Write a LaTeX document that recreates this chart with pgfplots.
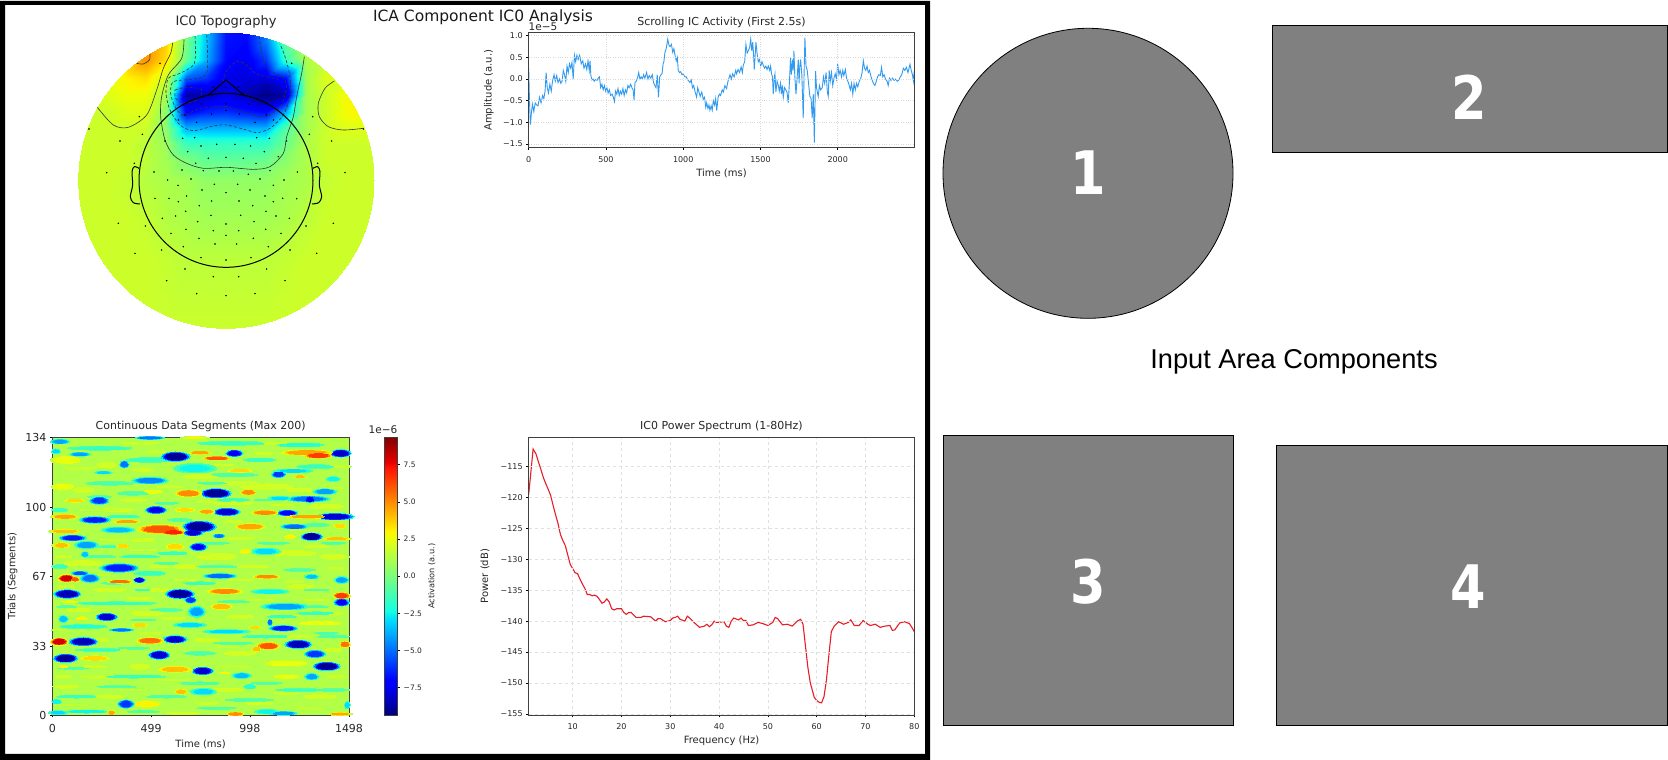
\documentclass[border=0pt]{standalone}
\usepackage{pgfplots}
\pgfplotsset{compat=1.18}
\usepackage{fontspec}
\setmainfont{DejaVu Sans}
\newfontfamily\arialf{Liberation Sans}
\newcommand{\fs}[1]{\fontsize{#1}{#1}\selectfont}
\pgfplotsset{
  colormap={mj}{rgb(0pt)=(0,0,.5); rgb(11pt)=(0,0,1); rgb(12.5pt)=(0,0,1); rgb(34pt)=(0,.86,1); rgb(35pt)=(0,.9,.97); rgb(37.5pt)=(.08,1,.89); rgb(64pt)=(.93,1,.03); rgb(66pt)=(1,.96,0); rgb(89pt)=(1,.07,0); rgb(91pt)=(.91,0,0); rgb(100pt)=(.5,0,0)},
  base/.style={scale only axis, tick align=outside, xtick pos=lower, ytick pos=left,
    major tick length=2.5pt, tick style={black,line width=.6pt}, axis line style={line width=.8pt,draw=black!75},
    tick label style={font=\fs{8},text=black!85}, x tick label style={yshift=-3pt}, label style={font=\fs{10},text=black!85},
    title style={font=\fs{11},text=black!85,anchor=center}, axis on top},
}
\newcommand{\streakT}{x y a b v\\
200 150 40 10 2.5\\ 320 165 30 8 2\\ 430 180 30 4 2\\ 190 230 30 8 2.5\\ 250 240 30 8 2\\ 460 245 25 5 2.5\\
800 230 80 8 2\\ 980 290 50 7 2\\ 400 270 40 4 2\\ 350 300 50 5 2\\ 600 200 50 6 2\\ 720 220 60 6 1.8\\
900 240 40 6 2\\ 700 280 60 4 2\\ 430 390 35 6 2\\ 650 440 60 10 2\\ 880 430 70 8 2\\ 1000 440 40 8 2\\
250 460 60 8 2\\ 560 470 40 6 2\\ 480 540 30 6 2\\ 330 540 50 5 2\\ 900 530 40 6 2\\ 240 600 40 5 2\\
440 610 50 7 2\\ 720 620 40 5 2\\ 960 640 60 5 2.5\\ 300 690 30 4 2\\ 620 690 40 6 2\\ 720 730 50 6 2\\
860 760 60 7 2.5\\ 420 770 30 8 2\\ 440 882 35 7 3\\ 200 830 35 5 2\\ 330 860 40 5 2\\ 680 840 50 6 2\\
860 800 35 5 2.5\\ 960 860 50 6 2\\ 780 880 40 4 2\\ 550 910 50 3 2\\ 300 800 60 5 1.8\\ 1000 720 25 6 2\\
420 100 60 3 1.8\\ 830 100 50 3 1.8\\ 470 125 30 3 1.8\\ 790 130 30 3 2\\ 240 175 50 3 1.8\\ 660 165 40 3 2\\ 1000 170 45 4 1.8\\
510 230 40 3 1.8\\ 1000 235 30 4 1.8\\ 620 275 30 3 1.8\\ 850 285 35 3 2\\ 300 300 60 3 1.6\\ 700 335 30 3 1.8\\ 900 360 30 3 1.8\\
340 390 40 3 2\\ 720 385 45 3 2\\ 950 410 40 3 2\\ 430 420 40 3 1.8\\ 600 430 40 3 1.6\\ 190 440 25 4 2\\ 300 495 30 3 1.8\\ 480 470 30 3 2\\
760 470 50 3 2\\ 1010 475 30 3 1.8\\ 560 510 35 3 2\\ 720 510 40 3 2\\ 880 515 30 3 1.8\\ 200 530 30 3 1.8\\ 420 565 40 3 2\\ 780 570 40 3 1.8\\
950 570 35 3 2\\ 300 600 30 3 1.6\\ 520 625 35 3 2\\ 880 620 35 3 1.6\\ 1000 610 30 3 2\\ 180 660 20 3 1.8\\ 450 670 40 3 1.8\\ 620 660 30 3 1.6\\
900 680 40 3 1.8\\ 350 720 30 3 1.8\\ 680 710 40 3 1.6\\ 190 800 25 3 2\\ 520 810 50 3 1.8\\ 700 770 60 3 1.6\\ 1010 800 30 3 2\\ 280 770 40 3 2\\
400 840 40 3 1.6\\ 860 850 40 3 1.8\\ 620 880 35 3 1.8\\ 220 885 40 3 1.6\\ 930 895 50 3 1.6\\
300 115 80 4 -1.5\\ 700 100 90 4 -1.5\\ 900 105 60 4 -2\\ 450 150 60 5 -1.5\\ 780 150 40 4 -1.5\\ 330 220 60 4 -1\\
700 195 60 4 -1\\ 950 170 50 4 -1.5\\ 400 250 40 4 -1\\ 700 270 40 3 -1.5\\ 180 300 20 4 -1.5\\ 370 320 40 3 -1.5\\
540 330 30 3 -1\\ 950 345 30 4 -1\\ 420 440 50 3 -1.5\\ 520 430 40 3 -1.5\\ 300 440 40 3 -1\\ 180 470 20 4 -1.5\\
450 490 40 5 -1.5\\ 600 520 40 3 -1.5\\ 900 480 40 3 -1\\ 350 580 100 3 -1.5\\ 250 650 60 4 -2\\ 500 600 40 3 -1\\
950 610 50 3 -1.5\\ 850 620 40 3 -1.5\\ 300 720 60 3 -1.5\\ 600 730 40 4 -1\\ 800 680 60 3 -1.5\\ 1000 680 40 3 -1\\
400 800 80 3 -1.5\\ 600 820 50 3 -1\\ 230 860 50 3 -1.5\\ 500 860 50 3 -1\\ 750 870 60 3 -1\\ 900 840 60 3 -1.5\\
170 875 12 5 -2.5\\ 260 905 50 3 -2.5\\ 1000 840 40 3 -1\\ 750 830 15 5 -2\\
640 220 40 2 -1\\ 300 260 30 2 -1\\ 800 270 30 2 -1\\ 500 280 30 2 -1\\ 640 400 40 2 -1\\ 820 400 40 2 -1\\ 330 410 30 2 -1.5\\ 1000 400 30 2 -1\\
650 470 60 2 -1\\ 500 460 30 2 -1\\ 340 520 30 2 -1\\ 950 540 30 2 -1\\ 430 540 20 2 -1.5\\ 700 575 40 2 -1\\ 950 590 30 2 -1\\ 200 590 25 2 -1\\
430 630 30 2 -1\\ 980 670 30 2 -1\\ 700 700 50 2 -1\\ 400 715 40 2 -1\\ 220 775 40 2 -1\\ 350 830 50 2 -1\\ 800 820 40 2 -1\\ 980 780 20 2 -1.5\\ 430 905 40 2 -1\\ 650 895 50 2 -1\\
}
\newcommand{\blobT}{x y a b v\\
527 140 30 10 -9\\ 703 130 18 7 -7.5\\ 1022 130 22 8 -8\\ 373 163 10 8 -5\\ 836 193 15 7 -6\\ 450 212 38 7 -4.5\\
648 250 32 10 -9\\ 298 272 20 8 -6\\ 925 267 45 6 -5\\ 930 268 12 7 -7\\ 975 245 25 6 -4\\ 468 300 22 8 -7.5\\
680 306 28 8 -8\\ 862 309 22 6 -7\\ 1005 320 40 7 -8\\ 285 330 32 7 -6.5\\ 598 350 35 12 -9\\ 580 368 20 7 -8\\
355 360 35 6 -3.5\\ 883 350 28 5 -5\\ 935 380 22 8 -9\\ 218 384 28 6 -6.5\\ 260 405 25 8 -4\\ 595 411 18 8 -7\\
657 378 12 4 -5\\ 255 433 8 6 -3.5\\ 797 424 32 7 -3\\ 358 474 40 9 -6.5\\ 270 505 20 9 -5\\ 240 490 18 4 -5.5\\
418 510 12 6 -7.5\\ 660 498 35 5 -5\\ 935 500 15 5 -3.5\\ 1025 510 15 7 -4\\ 202 552 28 9 -8.5\\ 540 552 30 10 -9\\
572 570 12 7 -6\\ 1025 577 16 8 -7\\ 855 590 50 7 -4\\ 810 545 40 5 -2.5\\ 590 605 18 12 -4\\ 320 621 22 8 -8\\
190 627 10 8 -3.5\\ 570 645 35 5 -3\\ 810 637 5 7 -5\\ 850 655 30 6 -6.5\\ 365 660 25 3 -5\\ 680 665 50 4 -3\\
250 695 30 9 -8.5\\ 525 688 25 8 -8\\ 895 703 28 9 -8.5\\ 945 732 22 8 -6\\ 478 735 22 9 -8\\ 197 745 25 9 -9\\
608 783 22 8 -8\\ 980 769 28 9 -9\\ 725 797 20 6 -3.5\\ 935 800 15 7 -4\\ 610 845 28 7 -3\\ 378 882 17 9 -6\\
1042 885 6 8 -3\\ 850 910 30 4 -4\\ 800 905 25 5 -2.5\\ 175 908 20 4 -3\\ 450 84 30 3 -5\\ 180 95 20 5 -4\\
240 133 22 4 -4\\ 168 124 10 5 -3\\ 585 175 45 10 -2.5\\ 310 188 18 3 -3\\ 880 183 40 4 -3\\ 1000 207 15 5 -2.5\\
840 265 25 4 -3\\ 600 128 25 4 4.5\\ 650 145 30 4 6\\ 920 128 60 6 4.5\\ 955 137 30 6 6.5\\ 720 182 30 4 3.5\\
900 200 15 3 4\\ 565 250 30 8 5\\ 745 247 18 6 5\\ 225 272 25 4 3.5\\ 555 300 25 4 3.5\\ 620 305 18 5 4.5\\
795 308 30 5 5\\ 925 320 50 4 4.5\\ 195 320 30 5 4.5\\ 380 335 30 3 4.5\\ 480 358 50 10 6\\ 520 367 25 5 7\\
750 350 35 7 4.5\\ 195 364 35 4 4\\ 1020 348 15 6 3.5\\ 870 380 15 5 3\\ 1010 386 30 3 4\\ 185 406 20 6 4\\
370 408 15 5 3.5\\ 525 410 22 7 3.5\\ 735 424 15 5 3\\ 200 505 18 8 8\\ 225 508 10 5 6\\ 360 515 28 3 5.5\\
800 500 30 4 5\\ 675 544 40 6 5\\ 1025 557 18 7 6.5\\ 665 590 25 7 4\\ 210 575 20 2 3\\ 420 645 18 5 3.5\\
245 625 15 4 3\\ 765 653 15 3 3.5\\ 450 692 30 7 5.5\\ 178 695 18 8 8\\ 805 708 25 8 6\\ 770 717 10 6 4\\
1035 703 12 7 5.5\\ 285 745 35 6 3.5\\ 525 778 40 7 4\\ 190 770 10 3 3\\ 675 788 12 2 3\\ 543 845 15 6 4\\
707 912 18 4 5\\ 335 908 8 5 4.5\\ 1020 912 25 3 4.5\\ 585 83 30 2 3\\
}
\newcommand{\feat}[4]{\addplot[scatter,only marks,mark=*,mark size=1pt,scatter src=explicit,
  scatter/use mapped color={draw=mapped color,fill=mapped color},mark options={line width=0pt},
  visualization depends on={value \thisrow{a} \as \A},
  visualization depends on={value \thisrow{b} \as \B},
  scatter/@pre marker code/.append style={/tikz/xscale=#2*\A/3,/tikz/yscale=#3*\B/3}]
  table[row sep=\\,x expr=(\thisrow{x}-157)*1.6831,y expr=(915-\thisrow{y})*.16086,meta expr=\thisrow{v}*#4] {#1};}
\begin{document}
\begin{tikzpicture}[x=1pt,y=1pt]
\path[use as bounding box,fill=white] (0,0) rectangle (1668,760);
\fill[black,even odd rule] (0,0) rectangle (930,759) (5,6) rectangle (925,755);

% --- topography colour field
\begin{axis}[at={(0pt,420pt)},anchor=south west,width=470pt,height=340pt,scale only axis,
  xmin=0,xmax=1410,ymin=0,ymax=1020,zmin=-1,zmax=2,y dir=reverse,hide axis,view={0}{90},
  colormap name=mj,point meta min=0,point meta max=1]
\clip (axis cs:678,541,0) circle [radius=148pt];
\addplot3[surf,shader=interp,mesh/rows=13] coordinates {
(198,61,.6)(258,61,.6)(318,61,.6)(378,61,.65)(438,61,.72)(498,61,.72)(558,61,.5)(618,61,.32)(678,61,.14)(738,61,.13)(798,61,.25)(858,61,.48)(918,61,.58)(978,61,.6)(1038,61,.6)(1098,61,.6)(1158,61,.6)
(198,121,.6)(258,121,.6)(318,121,.62)(378,121,.68)(438,121,.75)(498,121,.7)(558,121,.5)(618,121,.32)(678,121,.14)(738,121,.13)(798,121,.25)(858,121,.48)(918,121,.58)(978,121,.6)(1038,121,.6)(1098,121,.6)(1158,121,.6)
(198,181,.6)(258,181,.6)(318,181,.63)(378,181,.7)(438,181,.76)(498,181,.68)(558,181,.48)(618,181,.3)(678,181,.13)(738,181,.1)(798,181,.18)(858,181,.42)(918,181,.56)(978,181,.6)(1038,181,.6)(1098,181,.6)(1158,181,.6)
(198,235,.6)(258,235,.6)(318,235,.62)(378,235,.66)(438,235,.68)(498,235,.6)(558,235,.22)(618,235,.18)(678,235,.09)(738,235,.08)(798,235,.08)(858,235,.14)(918,235,.55)(978,235,.62)(1038,235,.62)(1098,235,.6)(1158,235,.6)
(198,285,.6)(258,285,.6)(318,285,.62)(378,285,.64)(438,285,.64)(498,285,.55)(558,285,.03)(618,285,.05)(678,285,.09)(738,285,.05)(798,285,0)(858,285,.05)(918,285,.55)(978,285,.6)(1038,285,.65)(1098,285,.66)(1158,285,.62)
(198,335,.6)(258,335,.6)(318,335,.6)(378,335,.62)(438,335,.62)(498,335,.52)(558,335,.12)(618,335,.16)(678,335,.17)(738,335,.15)(798,335,.13)(858,335,.3)(918,335,.55)(978,335,.6)(1038,335,.65)(1098,335,.66)(1158,335,.62)
(198,385,.6)(258,385,.6)(318,385,.6)(378,385,.6)(438,385,.6)(498,385,.52)(558,385,.3)(618,385,.3)(678,385,.3)(738,385,.3)(798,385,.3)(858,385,.45)(918,385,.55)(978,385,.6)(1038,385,.62)(1098,385,.62)(1158,385,.6)
(198,430,.6)(258,430,.6)(318,430,.6)(378,430,.6)(438,430,.58)(498,430,.54)(558,430,.42)(618,430,.41)(678,430,.41)(738,430,.41)(798,430,.41)(858,430,.48)(918,430,.56)(978,430,.6)(1038,430,.6)(1098,430,.6)(1158,430,.6)
(198,481,.6)(258,481,.6)(318,481,.6)(378,481,.6)(438,481,.58)(498,481,.55)(558,481,.5)(618,481,.47)(678,481,.47)(738,481,.47)(798,481,.48)(858,481,.52)(918,481,.56)(978,481,.6)(1038,481,.6)(1098,481,.6)(1158,481,.6)
(198,541,.6)(258,541,.6)(318,541,.6)(378,541,.59)(438,541,.57)(498,541,.56)(558,541,.55)(618,541,.53)(678,541,.53)(738,541,.53)(798,541,.53)(858,541,.55)(918,541,.56)(978,541,.59)(1038,541,.6)(1098,541,.6)(1158,541,.6)
(198,661,.6)(258,661,.6)(318,661,.6)(378,661,.6)(438,661,.59)(498,661,.57)(558,661,.56)(618,661,.55)(678,661,.55)(738,661,.55)(798,661,.55)(858,661,.56)(918,661,.58)(978,661,.6)(1038,661,.6)(1098,661,.6)(1158,661,.6)
(198,781,.6)(258,781,.6)(318,781,.6)(378,781,.6)(438,781,.6)(498,781,.59)(558,781,.58)(618,781,.58)(678,781,.58)(738,781,.58)(798,781,.58)(858,781,.59)(918,781,.6)(978,781,.6)(1038,781,.6)(1098,781,.6)(1158,781,.6)
(198,1021,.6)(258,1021,.6)(318,1021,.6)(378,1021,.6)(438,1021,.6)(498,1021,.6)(558,1021,.6)(618,1021,.6)(678,1021,.6)(738,1021,.6)(798,1021,.6)(858,1021,.6)(918,1021,.6)(978,1021,.6)(1038,1021,.6)(1098,1021,.6)(1158,1021,.6)
};
\end{axis}

% --- topography outlines, sensors
\begin{axis}[at={(0pt,420pt)},anchor=south west,width=470pt,height=340pt,scale only axis,
  xmin=0,xmax=1410,ymin=0,ymax=1020,y dir=reverse,hide axis,clip=false]
\addplot[black!80,line width=.6pt,smooth] coordinates {(410,190)(430,192)(448,180)(450,162)};
\addplot[black!80,line width=.6pt,smooth] coordinates {(518,128)(512,160)(490,205)(470,270)(440,345)(385,382)(340,375)(292,322)};
\addplot[black!80,line width=.6pt,smooth] coordinates {(1003,243)(975,265)(955,310)(958,350)(985,380)(1030,390)(1090,385)};
\addplot[black!80,line width=.6pt,smooth] coordinates {(552,118)(545,175)(505,225)(485,290)(482,350)(495,420)(520,465)(560,490)(610,505)(680,502)(760,508)(810,500)(850,460)(860,410)(880,350)(890,290)(905,220)(913,170)};
\addplot[black!80,line width=.6pt,densely dashed,smooth] coordinates {(585,108)(583,190)(540,220)(505,235)(498,280)(510,330)(540,375)(580,392)(640,378)(680,375)(740,390)(770,398)(810,385)(850,345)(870,290)(870,230)(855,170)(840,132)};
\addplot[black!80,line width=.6pt,densely dashed,smooth] coordinates {(620,105)(620,220)(570,238)(520,245)(512,280)(525,320)(550,345)(600,325)(650,320)(680,320)(730,335)(790,350)(840,320)(860,260)(845,230)(800,205)(785,155)(778,112)};
\addplot[black!80,line width=.6pt,densely dashed,smooth] coordinates {(670,245)(680,212)(712,183)(745,200)(770,222)(835,238)};
\addplot[black!80,line width=.6pt,densely dashed,smooth,tension=.6] coordinates {(525,270)(560,262)(605,270)(590,300)(550,310)(527,295)(525,270)};
\addplot[black!90,line width=.6pt,densely dashed,smooth,tension=.6] coordinates {(745,270)(790,255)(835,260)(835,290)(790,310)(745,280)(745,270)};
\addplot[black,only marks,mark=*,mark size=.5pt] coordinates {
(480,190)(875,190)(418,350)(938,350)(267,387)(1090,387)(427,403)(928,403)(360,423)(995,423)(495,423)(860,423)(403,490)(953,490)(320,518)(1035,518)
(535,360)(590,367)(635,342)(678,332)(718,342)(765,367)(820,360)(640,262)(678,262)(715,262)(605,312)(678,312)(745,312)(555,345)(800,345)
(548,415)(584,413)(770,413)(808,415)(603,438)(650,433)(705,433)(752,438)(563,455)(793,455)(678,472)(625,475)(730,475)(587,490)(768,490)(835,470)
(546,510)(610,512)(657,513)(700,513)(810,512)(462,516)(892,516)(573,537)(503,540)(780,537)(745,523)(534,556)(643,553)(713,553)(852,540)(820,556)
(606,570)(678,578)(750,570)(465,595)(507,595)(560,588)(795,588)(848,595)(890,596)(535,605)(635,603)(717,603)(820,605)(598,617)(758,617)(557,634)(798,634)
(527,648)(633,646)(722,646)(828,648)(487,655)(868,655)(593,665)(678,672)(762,665)(355,670)(1000,670)(436,678)(918,678)(558,688)(640,692)(716,692)(797,688)(513,700)(843,700)
(678,706)(597,715)(760,715)(645,732)(710,732)(550,740)(805,740)(485,750)(870,750)(405,760)(950,760)(603,773)(753,773)(678,780)
(555,807)(800,807)(640,830)(716,830)(500,842)(855,842)(590,881)(765,881)(678,887)};
\draw[black,line width=1pt] (axis cs:678,541) circle [radius=87pt];
\addplot[black,line width=1pt] coordinates {(625,285)(678,240)(735,288)};
\addplot[black,line width=1pt,smooth,tension=.5] coordinates {(417,505)(403,500)(396,515)(398,555)(391,590)(400,608)(420,612)};
\addplot[black,line width=1pt,smooth,tension=.5] coordinates {(939,505)(953,500)(960,515)(958,555)(965,590)(956,608)(936,612)};
\end{axis}
\node[font=\fs{13},text=black!85] at (226pt,738pt) {IC0 Topography};
\node[font=\fs{15.5},text=black!90] at (483pt,743pt) {ICA Component IC0 Analysis};

% --- scrolling activity
\begin{axis}[base,at={(528.7pt,612.3pt)},anchor=south west,width=385.6pt,height=115pt,
  xmin=0,xmax=2496,ymin=-1.585,ymax=1.07,
  xtick={0,500,1000,1500,2000},xticklabels={0,500,1000,1500,2000},
  ytick={-1.5,-1,-.5,0,.5,1},yticklabels={−1.5,−1.0,−0.5,0.0,0.5,1.0},
  grid=major,grid style={black!15,dotted,line width=.5pt},
  title={Scrolling IC Activity (First 2.5s)},xlabel={Time (ms)},ylabel={Amplitude (a.u.)},
  title style={at={(axis description cs:.5,1.038)}},
  xlabel style={at={(axis description cs:.5,-.22)},anchor=center},
  ylabel style={at={(axis description cs:-.103,.5)},anchor=center}]
\addplot[color={rgb,255:red,50;green,155;blue,240},line width=.9pt] coordinates {
(0,.25)(5,-.5)(11,-1.05)(17,-.8)(24,-.58)(33,-.75)(42,-.55)(52,-.6)(60,-.62)(70,-.42)(80,-.55)(90,-.38)(98,-.45)(106,-.28)(113,.15)(120,-.2)(128,-.32)(137,-.12)(146,-.28)(154,-.05)(164,.1)(172,-.05)(181,.08)(190,-.08)(200,0)(208,-.1)(216,-.05)(224,.2)(232,.1)(240,-.05)(248,.3)(256,.15)(264,.35)(272,.25)(280,.38)(288,0)(296,.55)(304,.4)(312,.55)(320,.45)(330,.55)(340,.35)(350,.42)(358,.25)(368,.35)(376,.22)(384,.42)(392,.2)(397,.42)(402,.1)(408,-.02)(416,0)(424,-.05)(434,-.01)(442,-.03)(450,.02)(458,.05)(466,-.2)(474,-.12)(482,-.25)(490,-.15)(498,-.28)(506,-.2)(514,-.32)(522,-.25)(530,-.38)(540,-.35)(548,-.42)(555,-.52)(562,-.28)(570,-.35)(578,-.22)(586,-.38)(594,-.28)(602,-.35)(610,-.22)(618,-.38)(626,-.25)(634,-.32)(642,-.15)(650,-.2)(660,-.12)(668,-.2)(676,-.25)(682,-.48)(688,-.08)(696,-.05)(704,.02)(712,.15)(720,.0)(728,.05)(736,.0)(744,.1)(752,.02)(763,.15)(772,.0)(780,.08)(790,.02)(800,.1)(808,-.08)(816,-.15)(824,-.2)(832,.1)(840,-.42)(848,.05)(856,.1)(863,.12)(870,.35)(875,.4)(882,.62)(890,.7)(900,.92)(908,.78)(915,.75)(924,.8)(932,.62)(940,.7)(947,.55)(955,.42)(962,.5)(968,.2)(976,.15)(984,.17)(992,.1)(1000,.12)(1010,.05)(1020,.05)(1030,-.02)(1044,-.08)(1052,-.02)(1060,-.2)(1068,-.15)(1076,-.28)(1087,-.42)(1094,-.2)(1102,-.3)(1110,-.4)(1120,-.3)(1130,-.47)(1138,-.42)(1146,-.65)(1152,-.55)(1160,-.68)(1167,-.6)(1173,-.72)(1181,-.62)(1188,-.72)(1195,-.5)(1203,-.6)(1210,-.45)(1217,-.73)(1226,-.42)(1234,-.35)(1242,-.38)(1252,-.25)(1260,-.3)(1270,-.15)(1281,-.22)(1290,-.05)(1303,.1)(1312,0)(1320,.12)(1330,.05)(1340,.2)(1346,.12)(1355,.22)(1365,.15)(1375,.28)(1383,.15)(1389,.32)(1398,.4)(1406,.8)(1414,.6)(1421,.65)(1430,.72)(1437,.92)(1444,.65)(1450,.85)(1456,.55)(1460,.22)(1466,.55)(1471,.85)(1478,.6)(1486,.4)(1494,.45)(1502,.3)(1510,.4)(1518,.32)(1526,.25)(1535,.3)(1543,.22)(1551,.3)(1560,.2)(1566,.3)(1572,.12)(1578,.05)(1583,-.35)(1590,.05)(1594,.12)(1600,-.3)(1608,-.05)(1616,-.15)(1622,-.28)(1630,-.1)(1636,-.35)(1642,-.15)(1648,-.42)(1656,-.2)(1664,-.25)(1672,-.3)(1680,-.55)(1688,-.05)(1695,.5)(1700,.1)(1708,.45)(1712,.2)(1717,.65)(1722,.1)(1730,-.35)(1737,0)(1745,.45)(1750,-.1)(1755,.3)(1760,.45)(1768,.1)(1777,-.9)(1783,.2)(1788,.95)(1795,.3)(1803,.2)(1810,-.05)(1820,-.4)(1828,-.45)(1835,-.9)(1842,-.35)(1849,-1.47)(1857,.18)(1863,-.2)(1874,-.4)(1882,-.15)(1890,-.25)(1900,-.2)(1908,.05)(1916,-.1)(1925,.15)(1933,-.3)(1939,-.4)(1945,.2)(1952,-.05)(1960,.15)(1968,-.15)(1976,.02)(1984,.12)(1992,.0)(2000,.35)(2008,.1)(2016,.2)(2025,.05)(2033,.2)(2040,.08)(2050,.22)(2058,.0)(2066,-.05)(2075,-.15)(2082,-.25)(2090,-.1)(2098,-.35)(2106,-.1)(2114,-.25)(2122,-.1)(2130,-.18)(2140,-.05)(2150,.02)(2158,.15)(2166,.42)(2174,.25)(2182,.2)(2190,.3)(2198,.15)(2206,.2)(2216,.05)(2226,-.05)(2234,-.12)(2241,-.15)(2250,-.05)(2258,.05)(2266,.1)(2276,.08)(2284,.27)(2292,.05)(2300,.1)(2310,0)(2320,-.05)(2327,-.15)(2335,.02)(2345,-.03)(2355,.02)(2365,-.03)(2375,.0)(2385,-.05)(2395,-.03)(2405,.05)(2415,.1)(2425,.25)(2435,.2)(2445,.27)(2455,.15)(2468,.34)(2476,.2)(2484,.1)(2490,-.05)(2496,.2)};
\end{axis}
\node[font=\fs{10.5},text=black!85] at (543pt,733pt) {1e−5};

% --- heat map
\begin{axis}[base,at={(52.3pt,45pt)},anchor=south west,width=296.7pt,height=277.7pt,
  xmin=0,xmax=1498,ymin=0,ymax=134,xtick={0,499,998,1498},xticklabels={0,499,998,1498},
  ytick={0,33,67,100,134},yticklabels={0,33,67,100,134},
  x tick label style={font=\fs{11}},y tick label style={font=\fs{11}},
  title={Continuous Data Segments (Max 200)},xlabel={Time (ms)},ylabel={Trials (Segments)},
  title style={at={(axis description cs:.5,1.018)}},
  xlabel style={at={(axis description cs:.5,-.104)},anchor=center},
  ylabel style={at={(axis description cs:-.1335,.5)},anchor=center},
  colormap name=mj,point meta min=-9.35,point meta max=9.35,
  axis background/.style={fill={rgb,1:red,.7;green,1;blue,.28}}]
\expandafter\feat\expandafter{\streakT}{1.2}{1.35}{.6}
\expandafter\feat\expandafter{\streakT}{1}{1}{1}
\expandafter\feat\expandafter{\blobT}{1.45}{1.4}{.3}
\expandafter\feat\expandafter{\blobT}{1.28}{1.22}{.55}
\expandafter\feat\expandafter{\blobT}{1.12}{1.08}{.78}
\expandafter\feat\expandafter{\blobT}{.95}{.9}{1}
\end{axis}

% --- colour bar
\begin{axis}[base,at={(384pt,45pt)},anchor=south west,width=13.7pt,height=277.7pt,
  xmin=0,xmax=1,ymin=-9.35,ymax=9.35,xtick=\empty,ytick pos=right,
  ytick={-7.5,-5,-2.5,0,2.5,5,7.5},yticklabels={−7.5,−5.0,−2.5,0.0,2.5,5.0,7.5},
  tick label style={font=\fs{7.5}},
  ylabel={Activation (a.u.)},ylabel style={font=\fs{8.2},at={(axis description cs:3.48,.5)},anchor=center},
  colormap name=mj,point meta min=-9.35,point meta max=9.35]
\addplot[surf,shader=interp,mesh/rows=2,point meta=y] coordinates {(0,-9.35)(1,-9.35)(0,9.35)(1,9.35)};
\end{axis}
\node[font=\fs{10.5},text=black!85] at (383pt,330pt) {1e−6};

% --- power spectrum
\begin{axis}[base,at={(528.7pt,45pt)},anchor=south west,width=385.6pt,height=277.7pt,
  xmin=1,xmax=80,ymin=-155.16,ymax=-110.3,
  xtick={10,20,30,40,50,60,70,80},xticklabels={10,20,30,40,50,60,70,80},
  ytick={-155,-150,-145,-140,-135,-130,-125,-120,-115},yticklabels={−155,−150,−145,−140,−135,−130,−125,−120,−115},
  grid=major,grid style={black!12,dashed,line width=.6pt},
  title={IC0 Power Spectrum (1-80Hz)},xlabel={Frequency (Hz)},ylabel={Power (dB)},
  title style={at={(axis description cs:.5,1.018)}},
  xlabel style={at={(axis description cs:.5,-.0936)},anchor=center},
  ylabel style={at={(axis description cs:-.1133,.5)},anchor=center}]
\addplot[color={rgb,255:red,230;green,30;blue,40},line width=1.1pt] coordinates {
(1,-119.5)(1.5,-115.5)(1.9,-112.2)(2.5,-113)(3,-114.3)(3.5,-115.5)(4,-116.8)(4.5,-117.8)(5,-118.7)(5.5,-119.7)(6,-121.3)(6.5,-122.8)(7,-124.2)(7.5,-126)(8,-127)(8.5,-127.8)(9,-129.3)(9.5,-130.8)(10,-131.5)(10.5,-132.2)(11,-132.3)(11.5,-133.2)(12,-134)(12.5,-134.7)(13,-135.7)(13.5,-135.7)(14,-135.9)(14.5,-135.8)(15,-136)(15.5,-136.5)(16,-137.1)(16.5,-136.9)(17,-136.4)(17.5,-136.9)(18,-138)(18.5,-138.2)(19,-138)(20,-138)(20.5,-138.6)(21,-138.9)(21.5,-138.6)(22,-138.6)(23,-139.4)(24,-139.4)(24.5,-139.2)(26,-139.3)(27,-140)(27.5,-139.6)(28,-139.6)(29,-140.1)(30,-139.9)(30.5,-139.5)(31,-139.4)(31.5,-139.2)(32,-139.7)(33,-140)(33.5,-139.2)(34,-139.5)(35,-140.3)(36,-141)(37,-140.8)(37.5,-140.5)(38,-140.9)(38.5,-140.6)(39,-140)(39.5,-140.2)(41,-140.1)(41.5,-140.8)(42,-141)(42.5,-140)(43,-139.5)(44,-139.8)(44.5,-139.5)(45,-139.9)(45.5,-139.9)(46,-140.7)(47,-140.6)(48,-140.2)(49,-140.4)(50,-140.7)(51,-140.2)(51.5,-139.4)(52,-139.6)(53,-140.6)(54,-140.5)(55,-140.8)(56,-140)(56.7,-139.7)(57.2,-140.5)(57.7,-144)(58.2,-147.5)(58.7,-150)(59.5,-152.3)(60,-152.8)(60.5,-153.1)(61,-153.2)(61.5,-152.2)(62,-149.5)(62.5,-145.5)(63,-141.7)(63.6,-140.8)(64.5,-140.1)(65.5,-140.5)(66.5,-140.2)(67,-139.8)(67.7,-140.7)(68.7,-140.7)(69.5,-139.9)(70.5,-140.5)(71,-140.7)(72,-140.5)(73,-141)(74,-140.8)(75,-140.7)(75.5,-141.5)(76,-141.4)(77,-140.3)(78,-140.1)(79,-140.4)(79.5,-141)(80,-141.7)};
\end{axis}

% --- input area shapes
\draw[black,line width=.8pt,fill={rgb,255:red,128;green,128;blue,128}] (1088pt,586.7pt) circle [radius=145pt];
\draw[black,line width=.8pt,fill={rgb,255:red,128;green,128;blue,128}] (1272.5pt,607.7pt) rectangle (1667pt,734.7pt);
\draw[black,line width=.8pt,fill={rgb,255:red,128;green,128;blue,128}] (943.3pt,34.7pt) rectangle (1233.3pt,325pt);
\draw[black,line width=.8pt,fill={rgb,255:red,128;green,128;blue,128}] (1276.5pt,34.7pt) rectangle (1667pt,314.7pt);
\node[text=white,font=\bfseries\fs{60},xscale=.85,inner sep=0pt] at (1088pt,587pt) {1};
\node[text=white,font=\bfseries\fs{60},xscale=.85,inner sep=0pt] at (1469pt,663pt) {2};
\node[text=white,font=\bfseries\fs{60},xscale=.85,inner sep=0pt] at (1088pt,178pt) {3};
\node[text=white,font=\bfseries\fs{60},xscale=.85,inner sep=0pt] at (1468pt,173pt) {4};
\node[font=\arialf\fs{27.2},text=black] at (1294pt,398pt) {Input Area Components};
\end{tikzpicture}
\end{document}
